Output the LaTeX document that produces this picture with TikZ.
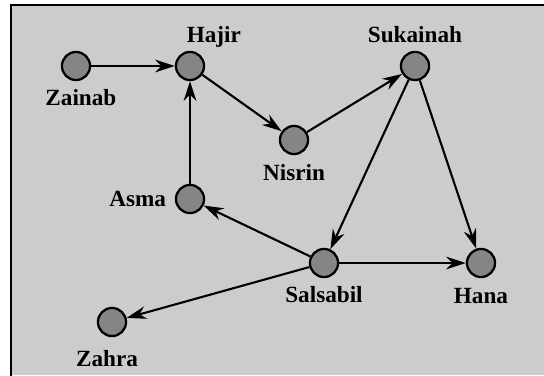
\documentclass[tikz,border=0pt]{standalone}
\usepackage{fontspec}
\setmainfont{Liberation Serif}
\usepackage{tikz}
\usetikzlibrary{arrows.meta, positioning}
\usepackage{xcolor}
\definecolor{panelgray}{HTML}{CCCCCC}
\definecolor{nodegray}{HTML}{858585}

\begin{document}
\begin{tikzpicture}[
  person/.style={circle, draw, line width=1.6pt, fill=nodegray,
    minimum size=20pt, inner sep=0pt},
  personname/.style={font=\bfseries\fontsize{16.5}{18}\selectfont, inner sep=0pt,
    text height=10.9pt, text depth=0pt},
  every label/.style={personname},
  label distance=6pt,
  arr/.style={-{Stealth[length=14pt, width=9pt]}, line width=1.5pt}
]
  % Frame
  \useasboundingbox (0, 0) rectangle (13.6, 9.375);
  \fill[panelgray] (0.283, 0) rectangle (13.6, 9.245);
  \draw[line width=1.4pt] (0.283, -0.1) |- (13.7, 9.245);

  % People
  \node[person, label={[xshift=3.5pt]below:Zainab}] (zainab) at (1.9, 7.725) {};
  \node[person, label={[xshift=17pt]above:Hajir}] (hajir) at (4.75, 7.725) {};
  \node[person, label={[label distance=7pt]below:Nisrin}] (nisrin) at (7.35, 5.875) {};
  \node[person, label={above:Sukainah}] (sukainah) at (10.375, 7.725) {};
  \node[person, label={left:Asma}] (asma) at (4.75, 4.4) {};
  \node[person, label={below:Salsabil}] (salsabil) at (8.1, 2.8) {};
  \node[person, label={[label distance=7pt]below:Hana}] (hana) at (12.025, 2.8) {};
  \node[person, label={[xshift=-3.5pt, label distance=10pt]below:Zahra}] (zahra) at (2.8, 1.325) {};

  % Links
  \draw[arr] (zainab) -- (hajir);
  \draw[arr] (hajir) -- (nisrin);
  \draw[arr] (nisrin) -- (sukainah);
  \draw[arr] (asma) -- (hajir);
  \draw[arr] (sukainah) -- (salsabil);
  \draw[arr] (sukainah) -- (hana);
  \draw[arr] (salsabil) -- (asma);
  \draw[arr] (salsabil) -- (hana);
  \draw[arr] (salsabil) -- (zahra);
\end{tikzpicture}
\end{document}
